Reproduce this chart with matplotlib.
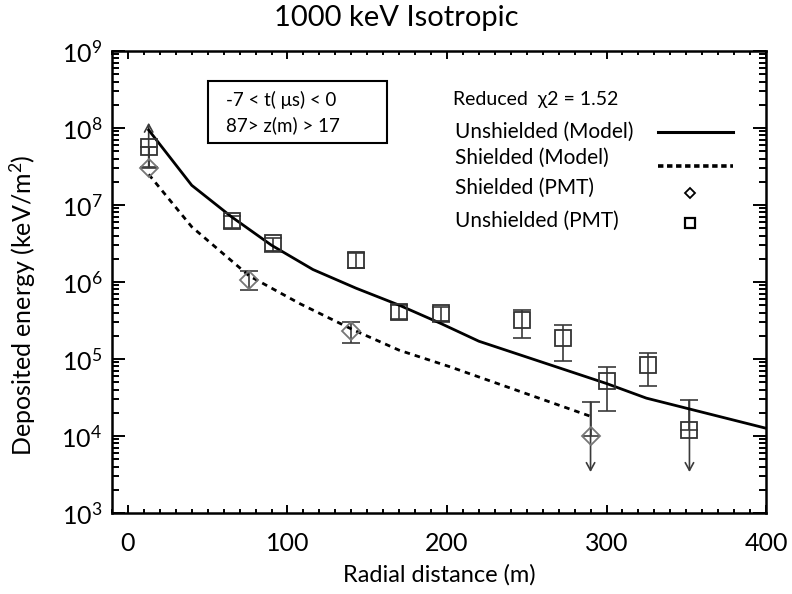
import matplotlib
matplotlib.use("Agg")
import matplotlib.pyplot as plt
from matplotlib.ticker import MultipleLocator, LogLocator, NullFormatter
from matplotlib.lines import Line2D

plt.rcParams['font.family'] = ['Lato', 'DejaVu Sans']
plt.rcParams['mathtext.fontset'] = 'custom'
plt.rcParams['mathtext.rm'] = 'Lato'
plt.rcParams['mathtext.it'] = 'Lato:italic'

# model curves
model_unsh_x = [13, 40, 65, 90, 116, 143, 170, 196, 220, 300, 325, 400]
model_unsh_y = [9.4e7, 1.8e7, 7.0e6, 3.0e6, 1.45e6, 8.3e5, 5.0e5, 2.9e5, 1.7e5, 4.8e4, 3.1e4, 1.26e4]
model_sh_x = [13, 40, 76, 108, 141, 170, 202, 290]
model_sh_y = [2.5e7, 5.2e6, 1.2e6, 5.2e5, 2.4e5, 1.3e5, 7.9e4, 1.8e4]

# shielded PMT (diamonds)
sh_x = [13, 76, 140, 290]
sh_y = [3.0e7, 1.06e6, 2.3e5, 1.0e4]
sh_lo = [3.0e7, 7.9e5, 1.6e5, 1.0e4]
sh_hi = [5.7e7, 1.4e6, 3.0e5, 2.76e4]
sh_arrow = [None, None, None, 3.4e3]

# unshielded PMT (squares)
unsh_x = [13, 65, 91, 143, 170, 196, 247, 273, 300, 326, 352]
unsh_y = [5.7e7, 6.1e6, 3.2e6, 1.93e6, 4.1e5, 3.9e5, 3.2e5, 1.86e5, 5.1e4, 8.3e4, 1.2e4]
unsh_lo = [3.1e7, 5.0e6, 2.45e6, 1.5e6, 3.3e5, 3.0e5, 1.9e5, 9.4e4, 2.1e4, 4.4e4, 1.2e4]
unsh_hi = [5.7e7, 7.2e6, 3.7e6, 2.4e6, 5.0e5, 4.8e5, 4.3e5, 2.76e5, 7.9e4, 1.2e5, 2.9e4]
unsh_arrow = [1.17e8, None, None, None, None, None, None, None, None, None, 3.4e3]

y_decades = [1e3, 1e4, 1e5, 1e6, 1e7, 1e8, 1e9]

fig = plt.figure(figsize=(7.92, 5.94), dpi=100)
ax = fig.add_axes([0.1414, 0.1364, 0.8258, 0.7778])

ax.plot(model_unsh_x, model_unsh_y, color='black', lw=2.0, zorder=3)
ax.plot(model_sh_x, model_sh_y, color='black', lw=2.0, dashes=(2.0, 1.8), zorder=3)


def draw_points(xs, ys, lo, hi, arrows, marker, ms, ecol):
    for x, y, l, h, a in zip(xs, ys, lo, hi, arrows):
        ax.errorbar([x], [y], yerr=[[y - l], [h - y]], fmt='none', ecolor='#3a3a3a',
                    elinewidth=1.2, capsize=6.5, capthick=1.2, zorder=2)
        if a is not None:
            start = h if a < y else l
            ax.annotate('', xy=(x, a), xytext=(x, start),
                        arrowprops=dict(arrowstyle='->,head_width=0.3,head_length=0.55',
                                        color='#3a3a3a', lw=1.2, shrinkA=0, shrinkB=0),
                        zorder=2)
    ax.plot(xs, ys, linestyle='none', marker=marker, ms=ms, mfc='none',
            mec=ecol, mew=1.3, zorder=4)


draw_points(sh_x, sh_y, sh_lo, sh_hi, sh_arrow, 'D', 9.0, '#777777')
draw_points(unsh_x, unsh_y, unsh_lo, unsh_hi, unsh_arrow, 's', 11.3, '#333333')

ax.set_yscale('log')
ax.set_xlim(-10, 400)
ax.set_ylim(1e3, 1e9)
ax.xaxis.set_major_locator(MultipleLocator(100))
ax.xaxis.set_minor_locator(MultipleLocator(10))
ax.set_yticks(y_decades)
ax.yaxis.set_minor_locator(LogLocator(base=10, subs=range(2, 10), numticks=10))
ax.yaxis.set_minor_formatter(NullFormatter())

ax.tick_params(which='both', direction='in', top=True, right=True, width=1.4)
ax.tick_params(axis='x', which='major', length=6, pad=14, labelsize=18)
ax.tick_params(axis='x', which='minor', length=3)
ax.tick_params(axis='y', which='major', length=9.5, pad=7, labelsize=18)
ax.tick_params(axis='y', which='minor', length=5)
for sp in ax.spines.values():
    sp.set_linewidth(1.8)

fig.suptitle('1000 keV Isotropic', fontsize=21, x=0.5, y=0.992, va='top')
ax.set_xlabel('Radial distance (m)', fontsize=17, labelpad=6)
ax.set_ylabel('Deposited energy (keV/m$^2$)', fontsize=18)
ax.yaxis.set_label_coords(-0.113, 0.45)

# cut box
ax.add_patch(plt.Rectangle((0.147, 0.80), 0.273, 0.134, transform=ax.transAxes,
                           fill=False, edgecolor='black', lw=1.5, zorder=5))
ax.text(0.175, 0.894, '-7 < t( \u03bcs) < 0', transform=ax.transAxes, fontsize=13.5,
        va='center', ha='left')
ax.text(0.175, 0.840, '87> z(m) > 17', transform=ax.transAxes, fontsize=13.5,
        va='center', ha='left')

# legend drawn by hand
ax.text(0.521, 0.894, 'Reduced  \u03c72 = 1.52', transform=ax.transAxes, fontsize=14,
        va='center', ha='left')
labels = ['Unshielded (Model)', 'Shielded (Model)', 'Shielded (PMT)', 'Unshielded (PMT)']
label_y = [0.825, 0.768, 0.703, 0.632]
for lab, yy in zip(labels, label_y):
    ax.text(0.524, yy, lab, transform=ax.transAxes, fontsize=15, va='center', ha='left')
ax.add_line(Line2D([0.835, 0.95], [0.825, 0.825], transform=ax.transAxes, color='black', lw=2.2))
ax.add_line(Line2D([0.835, 0.95], [0.751, 0.751], transform=ax.transAxes, color='black', lw=2.6,
                   dashes=(1.5, 1.0)))
ax.plot([0.884], [0.693], transform=ax.transAxes, marker='D', ms=5.5, mfc='none', mec='black', mew=1.3)
ax.plot([0.884], [0.628], transform=ax.transAxes, marker='s', ms=7, mfc='none', mec='black', mew=1.6)

fig.savefig('out.png', dpi=100)
